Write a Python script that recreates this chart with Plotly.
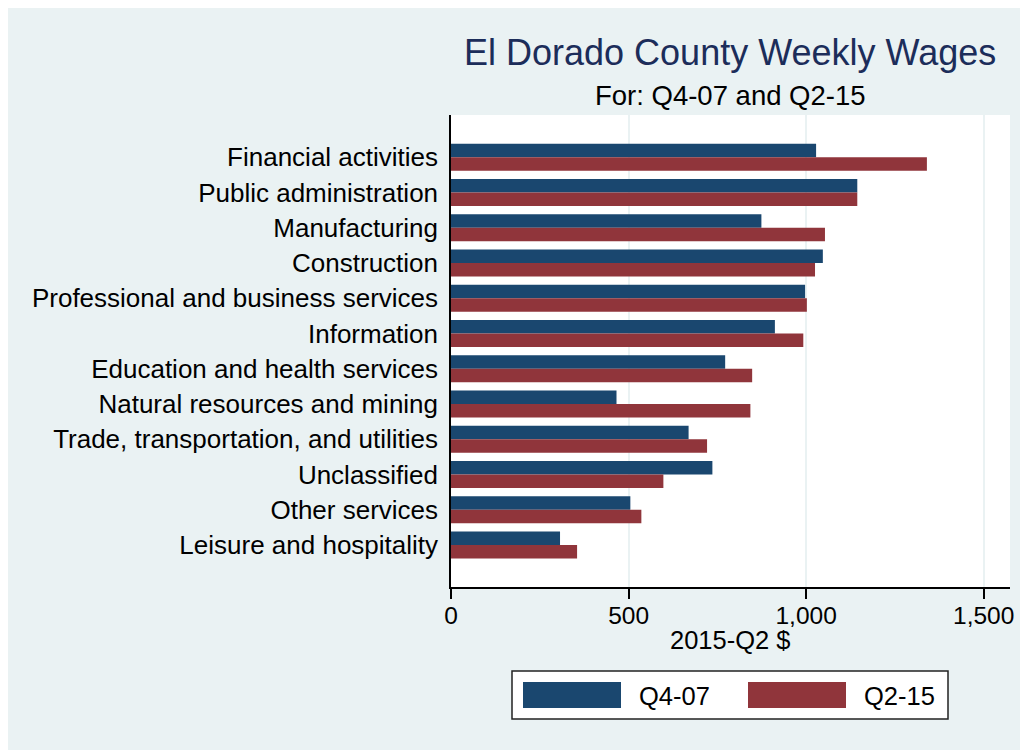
import plotly.graph_objects as go

# ---- data ----
categories = [
    "Financial activities",
    "Public administration",
    "Manufacturing",
    "Construction",
    "Professional and business services",
    "Information",
    "Education and health services",
    "Natural resources and mining",
    "Trade, transportation, and utilities",
    "Unclassified",
    "Other services",
    "Leisure and hospitality",
]
q4_07 = [1028, 1144, 874, 1047, 997, 912, 772, 466, 669, 736, 505, 307]
q2_15 = [1340, 1144, 1053, 1025, 1002, 992, 848, 843, 721, 598, 536, 355]
series_names = ["Q4-07", "Q2-15"]
x_ticks = [0, 500, 1000, 1500]
x_tick_labels = ["0", "500", "1,000", "1,500"]

title_text = "El Dorado County Weekly Wages"
subtitle_text = "For: Q4-07 and Q2-15"
x_title = "2015-Q2 $"

# ---- style ----
BLUE = "#1a476f"
RED = "#90353b"
BG = "#eaf2f3"
TITLE_C = "#1c2d5a"
FONT = "Liberation Sans, Arial, Helvetica, sans-serif"

OFF = 8  # page body margin
W, H = 1028, 750
L, R, T, B = 443, 26, 107, 171
PW, PH = W - L - R, H - T - B


def px(xs):
    return (xs - OFF - L) / PW


def py(ys):
    return (H - B - (ys - OFF)) / PH


fig = go.Figure()
fig.add_trace(go.Bar(y=categories, x=q4_07, name=series_names[0], orientation="h",
                     marker=dict(color=BLUE, line=dict(width=0))))
fig.add_trace(go.Bar(y=categories, x=q2_15, name=series_names[1], orientation="h",
                     marker=dict(color=RED, line=dict(width=0))))

shapes = [
    # legend box
    dict(type="rect", xref="paper", yref="paper", x0=px(512), x1=px(948), y0=py(719), y1=py(671),
         fillcolor="white", line=dict(color="#222222", width=1.5)),
    dict(type="rect", xref="paper", yref="paper", x0=px(523), x1=px(621), y0=py(708), y1=py(682),
         fillcolor=BLUE, line=dict(width=0)),
    dict(type="rect", xref="paper", yref="paper", x0=px(748), x1=px(846), y0=py(708), y1=py(682),
         fillcolor=RED, line=dict(width=0)),
]

annotations = [
    dict(text=title_text, xref="paper", yref="paper", x=px(730), y=py(52), xanchor="center",
         yanchor="middle", showarrow=False, font=dict(size=36, color=TITLE_C, family=FONT)),
    dict(text=subtitle_text, xref="paper", yref="paper", x=px(730), y=py(95.5), xanchor="center",
         yanchor="middle", showarrow=False, font=dict(size=27.5, color="black", family=FONT)),
    dict(text=x_title, xref="paper", yref="paper", x=px(730), y=py(640), xanchor="center",
         yanchor="middle", showarrow=False, font=dict(size=25.5, color="black", family=FONT)),
    dict(text=series_names[0], xref="paper", yref="paper", x=px(637), y=py(696), xanchor="left",
         yanchor="middle", showarrow=False, font=dict(size=25.5, color="black", family=FONT)),
    dict(text=series_names[1], xref="paper", yref="paper", x=px(862), y=py(696), xanchor="left",
         yanchor="middle", showarrow=False, font=dict(size=25.5, color="black", family=FONT)),
]

n = len(categories)
fig.update_layout(
    width=W, height=H,
    margin=dict(l=L, r=R, t=T, b=B, autoexpand=False),
    paper_bgcolor=BG,
    plot_bgcolor="white",
    barmode="group",
    bargap=0.235,
    bargroupgap=0,
    showlegend=False,
    font=dict(family=FONT, color="black"),
    shapes=shapes,
    annotations=annotations,
    xaxis=dict(
        range=[0, 1574], tickvals=x_ticks, ticktext=x_tick_labels,
        showgrid=True, gridcolor=BG, gridwidth=1.5,
        zeroline=False, showline=True, linecolor="black", linewidth=1.5,
        ticks="outside", ticklen=10, tickwidth=1.5, tickcolor="black",
        ticklabelstandoff=-4,
        tickfont=dict(size=24.5, family=FONT, color="black"),
    ),
    yaxis=dict(
        categoryorder="array", categoryarray=categories,
        range=[n - 1 + 1.19, -1.2],
        showgrid=False, zeroline=False, showline=True, linecolor="black", linewidth=1.5,
        ticks="", ticklabelstandoff=6,
        tickfont=dict(size=26, family=FONT, color="black"),
    ),
)

fig.write_html("out.html")
